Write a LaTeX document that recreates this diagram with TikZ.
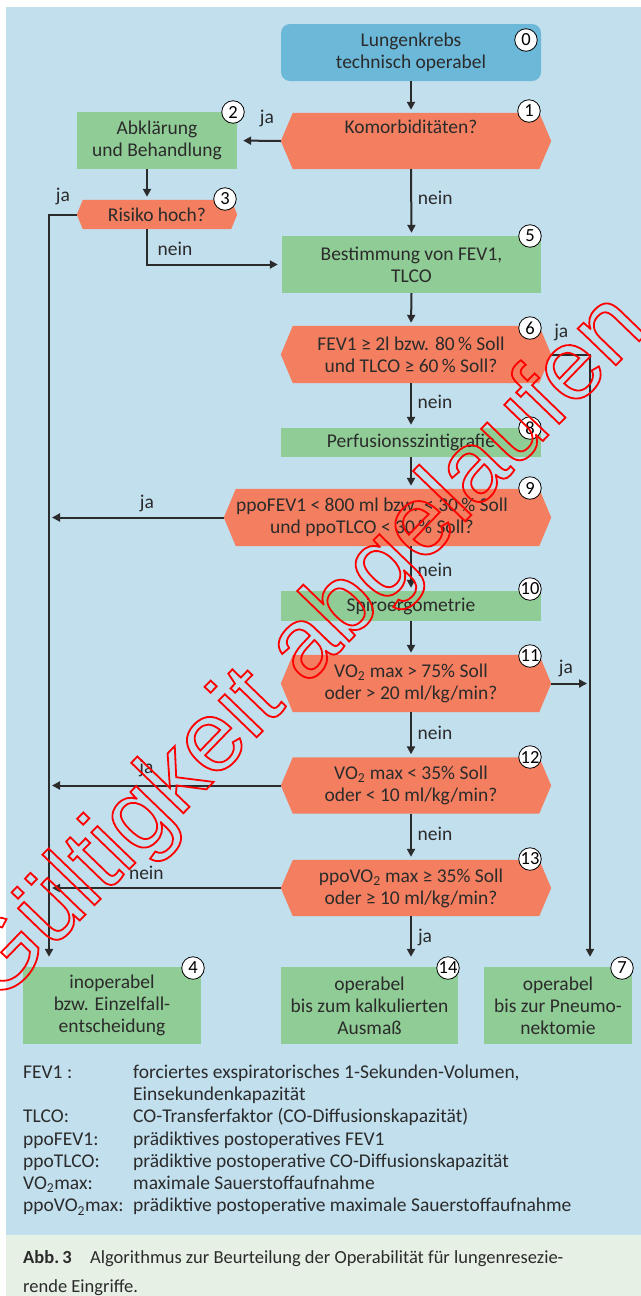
\documentclass[tikz,border=0pt]{standalone}
\usepackage{fontspec}
\setmainfont{Carlito}
\newfontfamily\wmfont{Liberation Sans}
\usetikzlibrary{arrows.meta,backgrounds,calc}

\definecolor{bgblue}{HTML}{C2DFEE}
\definecolor{capgreen}{HTML}{E6F0E4}
\definecolor{startblue}{HTML}{6CB8D9}
\definecolor{boxgreen}{HTML}{90CC96}
\definecolor{hexorange}{HTML}{F37F60}
\definecolor{ink}{HTML}{2B2B2B}
\definecolor{wmred}{HTML}{FF0000}

% hexagon fill behind a node: name, inset, extra width on the right
\newcommand\hexfill[3]{%
  \fill[hexorange] (#1.west) -- ([xshift=#2*1bp]#1.north west)
    -- ([xshift=(#3-#2)*1bp]#1.north east) -- ([xshift=#3*1bp]#1.east)
    -- ([xshift=(#3-#2)*1bp]#1.south east) -- ([xshift=#2*1bp]#1.south west) -- cycle;}

\begin{document}
\begin{tikzpicture}[x=1bp,y=-1bp,
  every node/.style={font=\fontsize{19.5bp}{22bp}\selectfont, text=ink, inner sep=0pt, align=center},
  startbox/.style={fill=startblue, rounded corners=9bp},
  actbox/.style={fill=boxgreen},
  num/.style={circle, draw=black, line width=0.8bp, fill=white, minimum size=22.5bp,
    font=\fontsize{18.5bp}{18.5bp}\selectfont, text=black},
  lab/.style={},
  arr/.style={draw=ink, line width=2bp, -{Triangle[length=8bp,width=8bp]}},
]
\useasboundingbox (0,0) rectangle (641,1296);

% ---------- nodes ----------
\node[startbox, minimum width=260bp, minimum height=57bp] (n0) at (411,52.5) {Lungenkrebs\\technisch operabel};
\node[minimum width=260bp, minimum height=56bp] (n1) at (411,141) {Komorbiditäten?\\\strut};
\node[actbox, minimum width=160bp, minimum height=57bp] (n2) at (157,140.5) {Abklärung\\und Behandlung};
\node[minimum width=160bp, minimum height=29bp] (n3) at (157,214.5) {Risiko hoch?};
\node[actbox, minimum width=259bp, minimum height=57bp] (n5) at (411.5,264.5) {Bestimmung von FEV1,\\TLCO};
\node[minimum width=260bp, minimum height=57bp] (n6) at (411,354.5) {FEV1 ≥ 2l bzw. 80\,\% Soll\\und TLCO ≥ 60\,\% Soll?};
\node[actbox, minimum width=260bp, minimum height=29bp] (n8) at (411,442.5) {Perfusionsszintigrafie};
\node[minimum width=296bp, minimum height=57bp] (n9) at (372,517.5) {ppoFEV1 < 800 ml bzw. < 30\,\% Soll\\und ppoTLCO < 30\,\% Soll?};
\node[actbox, minimum width=260bp, minimum height=30bp] (n10) at (411,606) {Spiroergometrie};
\node[minimum width=260bp, minimum height=57bp] (n11) at (411,683.5) {VO\textsubscript{2} max > 75\% Soll\\oder > 20 ml/kg/min?};
\node[minimum width=260bp, minimum height=56bp] (n12) at (411,785.5) {VO\textsubscript{2} max < 35\% Soll\\oder < 10 ml/kg/min?};
\node[minimum width=260bp, minimum height=56bp] (n13) at (411,888) {ppoVO\textsubscript{2} max ≥ 35\% Soll\\oder ≥ 10 ml/kg/min?};
\node[actbox, minimum width=178bp, minimum height=77bp] (n4) at (112,1005.5) {inoperabel\\bzw. Einzelfall-\\entscheidung};
\node[actbox, minimum width=177bp, minimum height=77bp] (n14) at (369.5,1005.5) {operabel\\bis zum kalkulierten\\Ausmaß};
\node[actbox, minimum width=148bp, minimum height=77bp] (n7) at (558,1005.5) {operabel\\bis zur Pneumo-\\nektomie};

% ---------- backgrounds and hexagons ----------
\begin{scope}[on background layer]
  \fill[white] (0,0) rectangle (641,1296);
  \fill[bgblue] (6,7) rectangle (641,1235);
  \fill[capgreen] (6,1235) rectangle (641,1296);
  \hexfill{n1}{12}{10}
  \hexfill{n3}{6}{0}
  \hexfill{n6}{12}{10}
  \hexfill{n9}{12}{31}
  \hexfill{n11}{12}{10}
  \hexfill{n12}{12}{10}
  \hexfill{n13}{12}{10}
\end{scope}

% ---------- helper coordinates for the two vertical lines ----------
\coordinate (lv) at (49,215);
\coordinate (rv) at (590,354.5);

% ---------- connectors ----------
\draw[arr, shorten >=3bp] (n0.south) -- (n1.north);
\draw[arr, shorten >=6bp] (n1.west) -- node[lab, pos=.32, yshift=22bp]{ja} (n2.east);
\draw[arr, shorten >=3bp] ([xshift=-10bp]n2.south) -- ([xshift=-10bp]n2.south |- n3.north);
\draw[arr, shorten >=10bp] (n3.west) -| node[lab, pos=.25, yshift=18bp]{ja} (n4.north -| lv);
\draw[arr, shorten >=4bp] ([xshift=-10bp]n3.south) |- node[lab, pos=.5, xshift=28bp, yshift=15.5bp]{nein} (n5.west);
\draw[arr, shorten >=3bp] (n1.south) -- node[lab, xshift=24bp, yshift=4.5bp]{nein} (n5.north);
\draw[arr, shorten >=3bp] (n5.south) -- (n6.north);
\draw[arr, shorten >=10bp] ([xshift=10bp]n6.east) -| node[lab, pos=.13, yshift=22.5bp]{ja} (n7.north -| rv);
\draw[arr, shorten >=3bp] (n6.south) -- node[lab, xshift=24bp, yshift=3.5bp]{nein} (n8.north);
\draw[arr, shorten >=3bp] (n8.south) -- (n8.south |- n9.north);
\draw[arr, shorten >=3bp] (n9.west) -- node[lab, pos=.44, yshift=14.5bp]{ja} (n9.west -| lv);
\draw[arr, shorten >=3bp] (n10.north |- n9.south) -- node[lab, xshift=24bp, yshift=-1.5bp]{nein} (n10.north);
\draw[arr, shorten >=2bp] (n10.south) -- (n11.north);
\draw[arr, shorten >=3bp] ([xshift=10bp]n11.east) -- node[lab, pos=.38, yshift=15.5bp]{ja} (n11.east -| rv);
\draw[arr, shorten >=3bp] (n11.south) -- node[lab, xshift=24bp, yshift=1.5bp]{nein} (n12.north);
\draw[arr, shorten >=3bp] (n12.west) -- node[lab, pos=.58, yshift=17.5bp]{ja} (n12.west -| lv);
\draw[arr, shorten >=3bp] (n12.south) -- node[lab, xshift=24bp, yshift=2.5bp]{nein} (n13.north);
\draw[arr, shorten >=3bp] (n13.west) -- node[lab, pos=.58, yshift=15bp]{nein} (n13.west -| lv);
\draw[arr, shorten >=10bp] (n13.south) -- node[lab, xshift=14bp, yshift=4.5bp]{ja} (n13.south |- n14.north);

% ---------- step numbers ----------
\node[num] (c0) at (526,40) {0};
\node[num] (c1) at (529,111) {1};
\node[num] (c2) at (233,112) {2};
\node[num] (c3) at (225,199) {3};
\node[num] (c5) at (530,236) {5};
\node[num] (c6) at (530,328) {6};
\node[num] (c8) at (530,428) {8};
\node[num] (c9) at (530,488) {9};
\node[num] (c10) at (530,589) {10};
\node[num] (c11) at (530,656) {11};
\node[num] (c12) at (530,757) {12};
\node[num] (c13) at (530,859) {13};
\node[num] (c4) at (193,968) {4};
\node[num] (c14) at (448,968) {14};
\node[num] (c7) at (622,968) {7};

% ---------- legend ----------
\node[anchor=base west, align=left, font=\fontsize{19.5bp}{22.33bp}\selectfont] (legend) at (23,1078) {%
\begin{tabular}[t]{@{}p{110bp}@{}l@{}}
FEV1 : & forciertes exspiratorisches 1-Sekunden-Volumen,\\
 & Einsekundenkapazität\\
TLCO: & CO-Transferfaktor (CO-Diffusionskapazität)\\
ppoFEV1: & prädiktives postoperatives FEV1\\
ppoTLCO: & prädiktive postoperative CO-Diffusionskapazität\\
VO\textsubscript{2}max: & maximale Sauerstoffaufnahme\\
ppoVO\textsubscript{2}max: & prädiktive postoperative maximale Sauerstoffaufnahme
\end{tabular}};

% ---------- caption ----------
\node[anchor=base west, align=left, font=\fontsize{18.5bp}{29bp}\selectfont] (caption) at (23,1263) {%
\begin{tabular}[t]{@{}l@{}}
\textbf{Abb.\,3}\quad Algorithmus zur Beurteilung der Operabilität für lungenresezie-\\
rende Eingriffe.
\end{tabular}};

% ---------- watermark ----------
\node[rotate=46, text=wmred, font=\wmfont\fontsize{100bp}{100bp}\selectfont] (wm) at (305,650)
  {\special{pdf:literal direct 1 Tr 1.8 w 1 0 0 RG}Gültigkeit abgelaufen};
\end{tikzpicture}
\end{document}
